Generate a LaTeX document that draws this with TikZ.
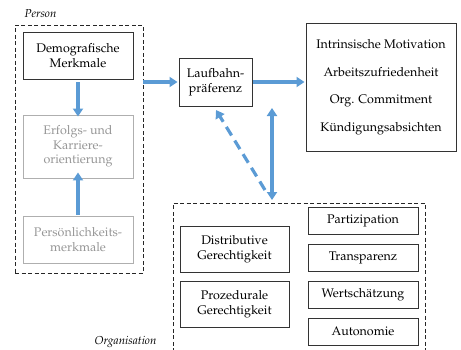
\documentclass[tikz,border=0pt]{standalone}
\usepackage[T1]{fontenc}
\usepackage{mathpazo}
\usetikzlibrary{arrows.meta}
\definecolor{arrowblue}{RGB}{91,155,213}
\definecolor{fadegray}{RGB}{150,150,150}
\definecolor{fadeline}{RGB}{175,175,175}
\tikzset{
  txt/.style={font=\fontsize{12.5}{14.5}\selectfont, align=center},
  box/.style={txt, draw=black!80, line width=0.9pt, inner sep=0pt},
  fadebox/.style={txt, draw=fadeline, line width=0.9pt, inner sep=0pt, text=fadegray},
  group/.style={draw=black!85, line width=0.8pt, dash pattern=on 4pt off 2.5pt},
  bluearrow/.style={draw=arrowblue, line width=3.2pt, -{Triangle[width=10pt,length=8pt]}},
  label/.style={font=\fontsize{11.5}{13.5}\selectfont\itshape}
}
\begin{document}
\begin{tikzpicture}[x=1pt,y=-1pt]
\useasboundingbox (0,0) rectangle (461,349);
% person group
\node[group, minimum width=128pt, minimum height=248pt, inner sep=0pt] (person) at (79,149) {};
\node[label, anchor=base west] (personlbl) at (21,17) {Person};
\node[box, minimum width=110pt, minimum height=47pt] (demo) at (78,55.5) {Demografische\\Merkmale};
\node[fadebox, minimum width=110pt, minimum height=63pt] (erfolg) at (78,146.5) {Erfolgs- und\\Karriere-\\orientierung};
\node[fadebox, minimum width=110pt, minimum height=47pt] (pers) at (78,239.5) {Pers\"onlichkeits-\\merkmale};
% middle
\node[box, minimum width=73pt, minimum height=48pt] (lauf) at (215.5,82) {Laufbahn-\\pr\"aferenz};
\node[box, minimum width=150pt, minimum height=128pt] (out) at (381,87)
  {Intrinsische Motivation\\[13pt]Arbeitszufriedenheit\\[13pt]Org. Commitment\\[13pt]K\"undigungsabsichten};
% organisation group
\coordinate (obl) at (173,352);
\coordinate (otl) at (173,203);
\coordinate (otr) at (425,203);
\coordinate (obr) at (425,352);
\draw[group] (obl) -- (otl) -- (otr) -- (obr);
\node[label, anchor=base east] (orglbl) at (160,344) {Organisation};
\node[box, minimum width=109pt, minimum height=46pt] (dist) at (234.5,249) {Distributive\\Gerechtigkeit};
\node[box, minimum width=109pt, minimum height=46pt] (proz) at (234.5,304) {Prozedurale\\Gerechtigkeit};
\node[box, minimum width=110pt, minimum height=27pt] (part) at (363,220.5) {Partizipation};
\node[box, minimum width=110pt, minimum height=27pt] (trans) at (363,257.5) {Transparenz};
\node[box, minimum width=110pt, minimum height=27pt] (wert) at (363,294.5) {Wertsch\"atzung};
\node[box, minimum width=110pt, minimum height=27pt] (auto) at (363,331.5) {Autonomie};
% arrows
\draw[bluearrow] (demo.south) ++(0,3) -- ([yshift=-2pt]erfolg.north);
\draw[bluearrow] (pers.north) ++(0,-1) -- ([yshift=6pt]erfolg.south);
\draw[bluearrow] (person.east |- lauf.west) -- ([xshift=-1pt]lauf.west);
\draw[bluearrow] ([xshift=1pt]lauf.east) -- ([xshift=-1pt]lauf.east -| out.west);
\coordinate (dtop) at (272,108);
\coordinate (dbot) at (272,200);
\draw[bluearrow, {Triangle[width=10pt,length=8pt]}-{Triangle[width=10pt,length=8pt]}] (dbot) -- (dtop);
\coordinate (dashstart) at (265,190);
\coordinate (dashend) at (216,110);
\draw[bluearrow, dash pattern=on 10pt off 6pt] (dashstart) -- (dashend);
\end{tikzpicture}
\end{document}
